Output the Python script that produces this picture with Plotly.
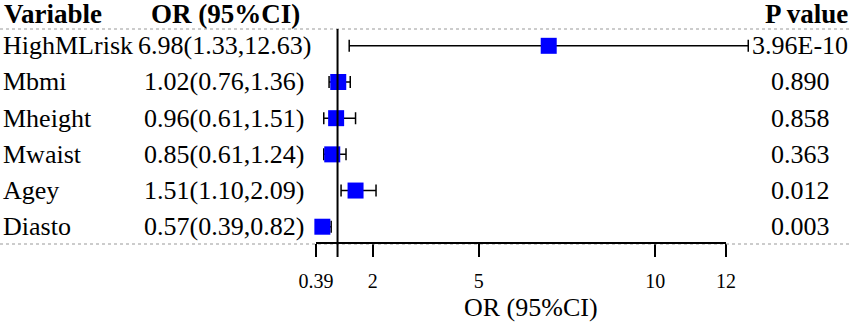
import plotly.graph_objects as go

variables = ["HighMLrisk", "Mbmi", "Mheight", "Mwaist", "Agey", "Diasto"]
or_vals = [6.98, 1.02, 0.96, 0.85, 1.51, 0.57]
ci_low = [1.33, 0.76, 0.61, 0.61, 1.10, 0.39]
ci_high = [12.63, 1.36, 1.51, 1.24, 2.09, 0.82]
p_values = ["3.96E-10", "0.890", "0.858", "0.363", "0.012", "0.003"]
tick_vals = [0.39, 2, 5, 10, 12]
tick_text = ["0.39", "2", "5", "10", "12"]

W, H = 851, 327
FONT = "Liberation Serif"

def px(x):
    return x / W

def py(y):
    return 1 - y / H

rows = list(range(len(variables)))
or_text = [f"{o:.2f}({l:.2f},{h:.2f})" for o, l, h in zip(or_vals, ci_low, ci_high)]

fig = go.Figure()
fig.add_trace(go.Scatter(
    x=or_vals, y=rows, mode="markers",
    marker=dict(symbol="square", size=16, color="#0000FF", line=dict(width=0)),
    error_x=dict(type="data", symmetric=False,
                 array=[h - o for h, o in zip(ci_high, or_vals)],
                 arrayminus=[o - l for o, l in zip(or_vals, ci_low)],
                 color="black", thickness=1.5, width=6),
    cliponaxis=False, showlegend=False, hoverinfo="skip",
))

dash_line = dict(color="#9a9a9a", width=1.2, dash="3px,3px")
shapes = [
    dict(type="line", xref="paper", yref="paper", x0=0, x1=1, y0=py(29), y1=py(29),
         line=dash_line),
    dict(type="line", xref="paper", yref="paper", x0=0, x1=1, y0=py(244), y1=py(244),
         line=dash_line),
    dict(type="line", xref="x", yref="paper", x0=tick_vals[0], x1=tick_vals[-1],
         y0=py(243), y1=py(243), line=dict(color="black", width=2)),
    dict(type="line", xref="x", yref="paper", x0=1, x1=1,
         y0=py(257), y1=py(29), line=dict(color="black", width=2)),
]

ann = []
hdr = dict(family=FONT, size=27, color="black")
ann.append(dict(text="<b>Variable</b>", x=px(2), y=py(14), xref="paper", yref="paper",
                xanchor="left", yanchor="middle", showarrow=False, font=hdr))
ann.append(dict(text="<b>OR (95%CI)</b>", x=px(225), y=py(14), xref="paper", yref="paper",
                xanchor="center", yanchor="middle", showarrow=False, font=hdr))
ann.append(dict(text="<b>P value</b>", x=px(850), y=py(14), xref="paper", yref="paper",
                xanchor="right", yanchor="middle", showarrow=False, font=hdr))
rf = dict(family=FONT, size=26, color="black")
for i in rows:
    ann.append(dict(text=variables[i], x=px(1), y=i, xref="paper", yref="y",
                    xanchor="left", yanchor="middle", showarrow=False, font=rf))
    ann.append(dict(text=or_text[i], x=px(224), y=i, xref="paper", yref="y",
                    xanchor="center", yanchor="middle", showarrow=False, font=rf))
    ann.append(dict(text=p_values[i], x=px(800), y=i, xref="paper", yref="y",
                    xanchor="center", yanchor="middle", showarrow=False, font=rf))
ann.append(dict(text="OR (95%CI)", x=px(531), y=py(307), xref="paper", yref="paper",
                xanchor="center", yanchor="middle", showarrow=False, font=rf))

pxu = 410 / (12 - 0.39)
xr0, xr1 = 0.2, 13.2
left = 316 - (0.39 - xr0) * pxu
right = 316 + (xr1 - 0.39) * pxu

fig.update_layout(
    width=W, height=H, margin=dict(l=0, r=0, t=0, b=0),
    paper_bgcolor="white", plot_bgcolor="white",
    xaxis=dict(domain=[left / W, right / W], range=[xr0, xr1],
               tickvals=tick_vals, ticktext=tick_text, ticks="outside",
               ticklen=13, tickwidth=2, tickcolor="black",
               showline=False, showgrid=False, zeroline=False,
               tickfont=dict(family=FONT, size=20, color="black"),
               ticklabelstandoff=7, automargin=False),
    yaxis=dict(domain=[py(243), py(27)], range=[5.45, -0.52],
               showticklabels=False, showgrid=False, zeroline=False,
               showline=False, ticks="", automargin=False),
    shapes=shapes, annotations=ann,
)

fig.write_html("out.html", config={"displayModeBar": False},
               post_script="document.body.style.margin='0';document.body.style.overflow='hidden';")
